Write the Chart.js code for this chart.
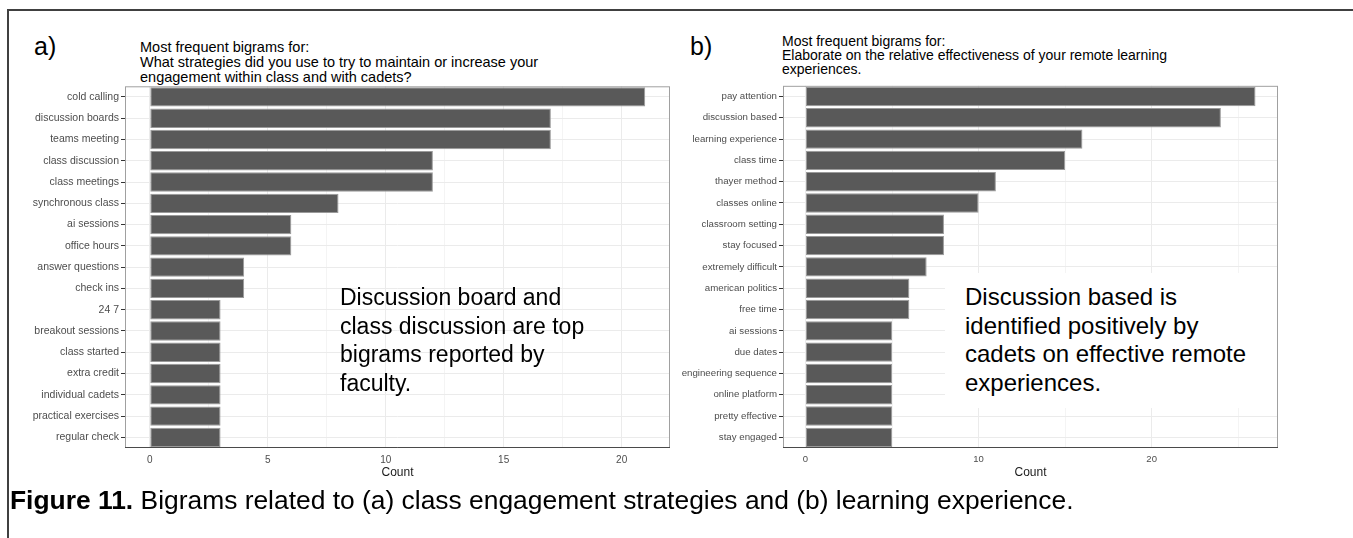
<!DOCTYPE html>
<html>
<head>
<meta charset="utf-8">
<script src="https://cdn.jsdelivr.net/npm/chart.js@4.4.1/dist/chart.umd.min.js"></script>
<style>
  body { margin: 0; background: #fff; font-family: "Liberation Sans", Arial, sans-serif; color: #000; }
  #page { position: relative; width: 1353px; height: 538px; overflow: hidden; background: #fff; }
  .frame { position: absolute; left: 7px; top: 9px; width: 1400px; height: 600px; border-top: 2px solid #404040; border-left: 2px solid #404040; }
  .panel-tag { position: absolute; font-size: 25px; line-height: 28px; }
  .panel-title { position: absolute; font-size: 14.5px; line-height: 15px; white-space: nowrap; }
  .note { position: absolute; font-size: 23px; line-height: 28.7px; white-space: nowrap; }
  .caption { position: absolute; left: 10px; top: 485px; font-size: 26.4px; line-height: 30px; white-space: nowrap; }
  canvas { position: absolute; }
</style>
</head>
<body>
<div id="page">
  <div class="frame"></div>

  <div class="panel-tag" style="left:34px; top:32px;">a)</div>
  <div class="panel-title" style="left:140px; top:40px;">Most frequent bigrams for:<br>What strategies did you use to try to maintain or increase your<br>engagement within class and with cadets?</div>

  <div class="panel-tag" style="left:690px; top:32px;">b)</div>
  <div class="panel-title" style="left:782px; top:34px; font-size:14px; line-height:14px;">Most frequent bigrams for:<br>Elaborate on the relative effectiveness of your remote learning<br>experiences.</div>

  <canvas id="engagementChart" width="670" height="412" style="left:10px; top:78px;"></canvas>
  <canvas id="experienceChart" width="608" height="412" style="left:680px; top:78px;"></canvas>

  <div class="note" style="left:340px; top:283px;">Discussion board and<br>class discussion are top<br>bigrams reported by<br>faculty.</div>
  <div class="note" style="left:945px; top:273px; width:332px; height:135px; padding:10px 0 0 20px; box-sizing:border-box; background:#fff; font-size:24px;">Discussion based is<br>identified positively by<br>cadets on effective remote<br>experiences.</div>

  <div class="caption"><b>Figure 11.</b> Bigrams related to (a) class engagement strategies and (b) learning experience.</div>
</div>

<script>
// (a) class engagement strategies
const engagementLabels = [
  "cold calling",
  "discussion boards",
  "teams meeting",
  "class discussion",
  "class meetings",
  "synchronous class",
  "ai sessions",
  "office hours",
  "answer questions",
  "check ins",
  "24 7",
  "breakout sessions",
  "class started",
  "extra credit",
  "individual cadets",
  "practical exercises",
  "regular check",
]
const engagementCounts = [21, 17, 17, 12, 12, 8, 6, 6, 4, 4, 3, 3, 3, 3, 3, 3, 3]
const engagementTicks = [0, 5, 10, 15, 20]

// (b) learning experience
const experienceLabels = [
  "pay attention",
  "discussion based",
  "learning experience",
  "class time",
  "thayer method",
  "classes online",
  "classroom setting",
  "stay focused",
  "extremely difficult",
  "american politics",
  "free time",
  "ai sessions",
  "due dates",
  "engineering sequence",
  "online platform",
  "pretty effective",
  "stay engaged",
]
const experienceCounts = [26, 24, 16, 15, 11, 10, 8, 8, 7, 6, 6, 5, 5, 5, 5, 5, 5]
const experienceTicks = [0, 10, 20]

const FONT = "'Liberation Sans', Arial, sans-serif"

// panel border like theme_bw, drawn over the bars
const panelBorder = {
  id: "panelBorder",
  afterDatasetsDraw(chart) {
    const { ctx, chartArea } = chart
    ctx.save()
    ctx.lineWidth = 1
    ctx.strokeStyle = "#a0a0a0"
    ctx.strokeRect(chartArea.left + 0.5, chartArea.top + 0.5, chartArea.right - chartArea.left - 1, chartArea.bottom - chartArea.top - 1)
    ctx.strokeStyle = "#4a4a4a"
    ctx.beginPath()
    ctx.moveTo(chartArea.left, chartArea.bottom - 0.5)
    ctx.lineTo(chartArea.right, chartArea.bottom - 0.5)
    ctx.stroke()
    ctx.restore()
  },
}

function buildChart(canvasId, labels, counts, majorTicks, labelWidth, labelSize, tickSize) {
  const top = Math.max(...counts)
  const step = majorTicks[1] - majorTicks[0]

  // major lines plus the minor ones halfway between
  const gridValues = []
  for (let v = 0; v <= top * 1.05; v += step / 2) gridValues.push(v)

  const isMajor = (v) => majorTicks.includes(v)

  return new Chart(document.getElementById(canvasId), {
    type: "bar",
    data: {
      labels: labels,
      datasets: [
        {
          data: counts,
          backgroundColor: "#595959",
          borderColor: "#9a9a9a",
          borderWidth: 1,
          borderSkipped: false,
          barPercentage: 0.91,
          categoryPercentage: 1,
        },
      ],
    },
    options: {
      indexAxis: "y",
      responsive: false,
      animation: false,
      layout: { padding: { top: 4, right: 10, left: 0, bottom: 0 } },
      plugins: {
        legend: { display: false },
        tooltip: { enabled: false },
      },
      scales: {
        x: {
          type: "linear",
          min: -top * 0.05,
          max: top * 1.05,
          afterBuildTicks: (axis) => {
            axis.ticks = gridValues.map((v) => ({ value: v }))
          },
          afterFit: (axis) => {
            axis.height = 42
          },
          ticks: {
            autoSkip: false,
            maxRotation: 0,
            padding: 6,
            color: "#4d4d4d",
            font: { family: FONT, size: tickSize },
            callback: (value) => (isMajor(value) ? value : ""),
          },
          grid: {
            drawTicks: false,
            color: (c) => (c.tick && isMajor(c.tick.value) ? "#ebebeb" : "#f4f4f4"),
            lineWidth: 1,
          },
          border: { display: false },
          title: {
            display: true,
            text: "Count",
            color: "#1a1a1a",
            font: { family: FONT, size: 12 },
            padding: { top: 0, bottom: 10 },
          },
        },
        y: {
          afterFit: (axis) => {
            axis.width = labelWidth
          },
          ticks: {
            autoSkip: false,
            padding: 2,
            color: "#4d4d4d",
            font: { family: FONT, size: labelSize },
          },
          grid: {
            offset: false,
            color: "#ebebeb",
            lineWidth: 1,
            drawTicks: true,
            tickLength: 4,
            tickColor: "#333333",
          },
          border: { display: false },
        },
      },
    },
    plugins: [panelBorder],
  })
}

buildChart("engagementChart", engagementLabels, engagementCounts, engagementTicks, 115, 10.5, 10)
buildChart("experienceChart", experienceLabels, experienceCounts, experienceTicks, 103, 9.7, 9.5)
</script>
</body>
</html>
